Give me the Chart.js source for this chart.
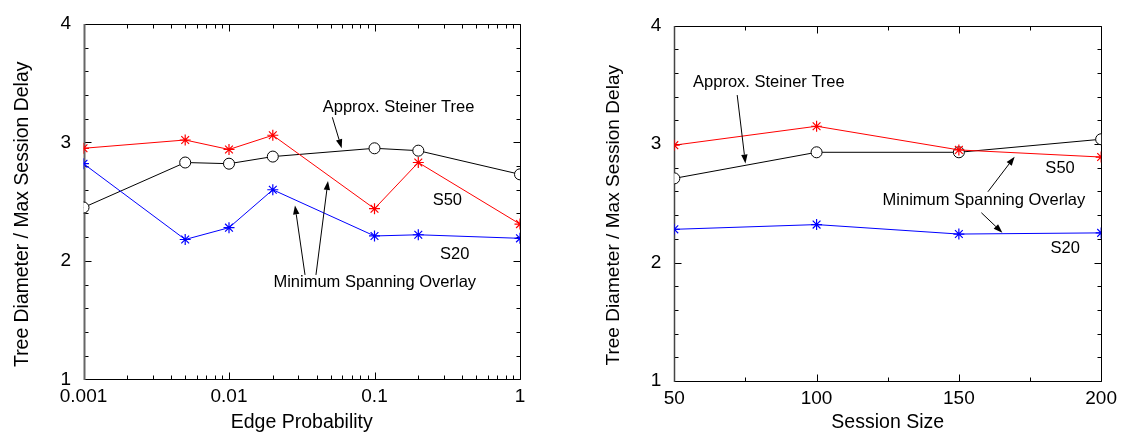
<!DOCTYPE html>
<html><head><meta charset="utf-8">
<script src="https://cdn.jsdelivr.net/npm/chart.js@4.4.0/dist/chart.umd.min.js"></script>
<style>
html,body{margin:0;padding:0;background:#fff;}
#wrap{position:relative;width:1123px;height:435px;overflow:hidden;background:#fff;}
#c1{position:absolute;left:0;top:0;}
#c2{position:absolute;left:560px;top:0;}
</style></head><body>
<div id="wrap"><canvas id="c1" width="560" height="435"></canvas><canvas id="c2" width="563" height="435"></canvas></div>
<script>
// ---- data: left panel (edge probability) ----
const edgeProb    = [0.001, 0.005, 0.01, 0.02, 0.1, 0.2, 1];
const edgeS50     = [2.95, 3.02, 2.94, 3.06, 2.44, 2.83, 2.31];
const edgeS20     = [2.82, 2.18, 2.28, 2.60, 2.21, 2.22, 2.19];
const edgeSteiner = [2.45, 2.83, 2.82, 2.88, 2.95, 2.93, 2.73];
// ---- data: right panel (session size) ----
const sessSize    = [50, 100, 150, 200];
const sessS50     = [2.99, 3.15, 2.95, 2.89];
const sessS20     = [2.28, 2.32, 2.24, 2.25];
const sessSteiner = [2.71, 2.93, 2.93, 3.04];
// ---- ticks ----
const yTicks    = [1, 2, 3, 4];
const yMinor    = [1.2, 1.4, 1.6, 1.8, 2.2, 2.4, 2.6, 2.8, 3.2, 3.4, 3.6, 3.8];
const edgeTicks = [0.001, 0.01, 0.1, 1];
const edgeMinor = [0.002, 0.003, 0.004, 0.005, 0.006, 0.007, 0.008, 0.009,
                   0.02, 0.03, 0.04, 0.05, 0.06, 0.07, 0.08, 0.09,
                   0.2, 0.3, 0.4, 0.5, 0.6, 0.7, 0.8, 0.9];
const sessTicks = [50, 100, 150, 200];
const sessMinor = [75, 125, 175];
// ---- text ----
const yTitle = 'Tree Diameter / Max Session Delay';
const steinerLabel = 'Approx. Steiner Tree';
const msoLabel = 'Minimum Spanning Overlay';

// annotations in data coordinates
const leftTexts = [
  {t: steinerLabel, x: 0.0441, y: 3.294},
  {t: msoLabel, x: 0.0202, y: 1.815},
  {t: 'S50', x: 0.251, y: 2.509},
  {t: 'S20', x: 0.282, y: 2.055}
];
const leftArrows = [
  {x1: 0.0513, y1: 3.212, x2: 0.0595, y2: 2.950},
  {x1: 0.0333, y1: 1.881, x2: 0.0284, y2: 2.468},
  {x1: 0.0396, y1: 1.881, x2: 0.0479, y2: 2.674}
];
const rightTexts = [
  {t: steinerLabel, x: 56.6, y: 3.523},
  {t: msoLabel, x: 123.2, y: 2.527},
  {t: 'S50', x: 180.4, y: 2.795},
  {t: 'S20', x: 182.2, y: 2.120}
];
const rightArrows = [
  {x1: 72.1, y1: 3.413, x2: 75.0, y2: 2.835},
  {x1: 160.2, y1: 2.597, x2: 169.6, y2: 2.893},
  {x1: 157.9, y1: 2.420, x2: 165.3, y2: 2.251}
];

const FONT = "'Liberation Sans', Arial, Helvetica, sans-serif";

function framePlugin(majX, minX, majY, minY, leftColor, leftWidth) {
  return {
    id: 'frame',
    beforeDatasetsDraw(chart) {
      const {ctx, chartArea: a, scales: {x, y}} = chart;
      ctx.save();
      ctx.strokeStyle = '#000';
      ctx.lineWidth = 1;
      const L = Math.round(a.left) + 0.5, R = Math.round(a.right) + 0.5;
      const T = Math.round(a.top) + 0.5, B = Math.round(a.bottom) + 0.5;
      ctx.beginPath();
      const vt = (v, len) => {
        const p = Math.round(x.getPixelForValue(v)) + 0.5;
        ctx.moveTo(p, B); ctx.lineTo(p, B - len);
        ctx.moveTo(p, T); ctx.lineTo(p, T + len);
      };
      const ht = (v, len) => {
        const p = Math.round(y.getPixelForValue(v)) + 0.5;
        ctx.moveTo(L, p); ctx.lineTo(L + len, p);
        ctx.moveTo(R, p); ctx.lineTo(R - len, p);
      };
      majX.forEach(v => vt(v, 7));
      minX.forEach(v => vt(v, 4));
      majY.forEach(v => ht(v, 7));
      minY.forEach(v => ht(v, 4));
      ctx.stroke();
      ctx.beginPath();
      ctx.moveTo(L, T); ctx.lineTo(R, T); ctx.lineTo(R, B); ctx.lineTo(L, B);
      ctx.stroke();
      ctx.strokeStyle = leftColor;
      ctx.lineWidth = leftWidth;
      ctx.beginPath();
      ctx.moveTo(Math.round(a.left) + 0.5, T - 0.5); ctx.lineTo(Math.round(a.left) + 0.5, B + 0.5);
      ctx.stroke();
      ctx.restore();
    }
  };
}

function annotPlugin(texts, arrows, titleX, titleShift, titleSize) {
  return {
    id: 'annot',
    afterDatasetsDraw(chart) {
      const {ctx, chartArea: a, scales: {x, y}} = chart;
      ctx.save();
      ctx.fillStyle = '#000';
      ctx.strokeStyle = '#000';
      ctx.lineWidth = 1;
      ctx.font = '16.5px ' + FONT;
      ctx.textAlign = 'left';
      ctx.textBaseline = 'middle';
      texts.forEach(o => ctx.fillText(o.t, x.getPixelForValue(o.x), y.getPixelForValue(o.y)));
      arrows.forEach(o => {
        const x1 = x.getPixelForValue(o.x1), y1 = y.getPixelForValue(o.y1);
        const x2 = x.getPixelForValue(o.x2), y2 = y.getPixelForValue(o.y2);
        const ang = Math.atan2(y2 - y1, x2 - x1);
        const hl = 9, hw = 3.2;
        const bx = x2 - hl * Math.cos(ang), by = y2 - hl * Math.sin(ang);
        ctx.beginPath();
        ctx.moveTo(x1, y1); ctx.lineTo(bx, by);
        ctx.stroke();
        ctx.beginPath();
        ctx.moveTo(x2, y2);
        ctx.lineTo(bx + hw * Math.sin(ang), by - hw * Math.cos(ang));
        ctx.lineTo(bx - hw * Math.sin(ang), by + hw * Math.cos(ang));
        ctx.closePath();
        ctx.fill();
      });
      // y-axis title
      ctx.font = titleSize + 'px ' + FONT;
      ctx.textAlign = 'center';
      ctx.textBaseline = 'middle';
      ctx.translate(titleX, (a.top + a.bottom) / 2 + titleShift);
      ctx.rotate(-Math.PI / 2);
      ctx.fillText(yTitle, 0, 0);
      ctx.restore();
    }
  };
}

function mkSets(xs, s50, s20, st) {
  const pts = arr => xs.map((v, i) => ({x: v, y: arr[i]}));
  return [
    {data: pts(s20), borderColor: '#0000ff', borderWidth: 1, pointStyle: 'star', pointRadius: 5.5,
     pointBorderColor: '#0000ff', pointBorderWidth: 1.2, pointBackgroundColor: '#0000ff', tension: 0, fill: false},
    {data: pts(s50), borderColor: '#ff0000', borderWidth: 1, pointStyle: 'star', pointRadius: 5.5,
     pointBorderColor: '#ff0000', pointBorderWidth: 1.2, pointBackgroundColor: '#ff0000', tension: 0, fill: false},
    {data: pts(st), borderColor: '#000', borderWidth: 1, pointStyle: 'circle', pointRadius: 5.5,
     pointBorderColor: '#000', pointBorderWidth: 1, pointBackgroundColor: '#fff', tension: 0, fill: false}
  ];
}

function mkOptions(cfg) {
  return {
    responsive: false, animation: false, devicePixelRatio: 1,
    layout: {padding: {top: cfg.top, right: cfg.right, left: 0, bottom: 0}},
    plugins: {legend: {display: false}, tooltip: {enabled: false}},
    scales: {
      x: Object.assign({
        position: 'bottom', min: cfg.xmin, max: cfg.xmax,
        grid: {display: false, drawTicks: false}, border: {display: false},
        ticks: {font: {family: FONT, size: 19}, color: '#000', padding: 6, autoSkip: false, maxRotation: 0,
                callback: v => String(v)},
        afterBuildTicks: s => { s.ticks = cfg.xTicks.map(v => ({value: v})); },
        afterFit: s => { s.height = cfg.xh; },
        title: {display: true, text: cfg.xTitle, color: '#000', font: {family: FONT, size: 19.5},
                padding: {top: 0, bottom: 1}}
      }, cfg.xType ? {type: cfg.xType} : {type: 'linear'}),
      y: {
        type: 'linear', min: 1, max: 4,
        grid: {display: false, drawTicks: false}, border: {display: false},
        ticks: {font: {family: FONT, size: 19}, color: '#000', padding: cfg.ypad, stepSize: 1},
        afterBuildTicks: s => { s.ticks = yTicks.map(v => ({value: v})); },
        afterFit: s => { s.width = cfg.yw; },
        title: {display: false}
      }
    }
  };
}

new Chart(document.getElementById('c1'), {
  type: 'line',
  data: {datasets: mkSets(edgeProb, edgeS50, edgeS20, edgeSteiner)},
  options: mkOptions({top: 16.3, right: 40, xmin: 0.001, xmax: 1, xType: 'logarithmic', xTicks: edgeTicks,
                      xh: 55.7, yw: 83.5, ypad: 12.5, xTitle: 'Edge Probability'}),
  plugins: [framePlugin(edgeTicks, edgeMinor, yTicks, yMinor, '#666', 2),
            annotPlugin(leftTexts, leftArrows, 22.2, 12.7, 19.4)]
});

new Chart(document.getElementById('c2'), {
  type: 'line',
  data: {datasets: mkSets(sessSize, sessS50, sessS20, sessSteiner)},
  options: mkOptions({top: 25.5, right: 21.5, xmin: 50, xmax: 200, xTicks: sessTicks,
                      xh: 54, yw: 114.3, ypad: 13, xTitle: 'Session Size'}),
  plugins: [framePlugin(sessTicks, sessMinor, yTicks, yMinor, '#444', 1.5),
            annotPlugin(rightTexts, rightArrows, 54, 12, 19.1)]
});
</script>
</body></html>
